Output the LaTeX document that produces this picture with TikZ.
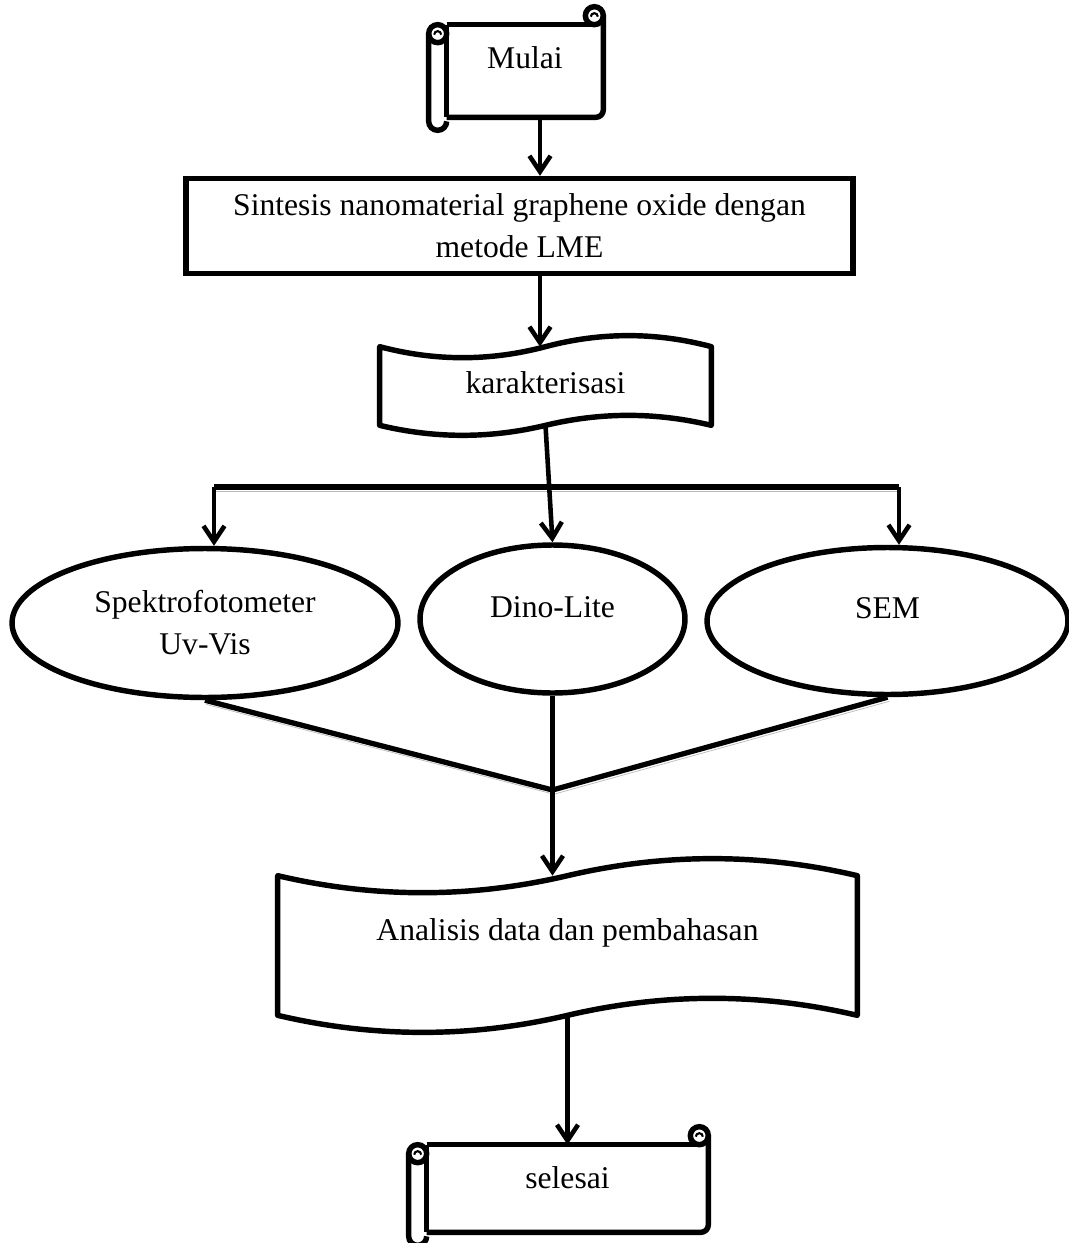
\documentclass[tikz,border=0pt]{standalone}
\usepackage{fontspec}
\setmainfont{Liberation Serif}
\usetikzlibrary{shapes.geometric}
\usetikzlibrary{arrows.meta}
\usetikzlibrary{calc}
\tikzstyle{kotak}=[draw, line width=3.1pt, fill=white, inner sep=0pt]
\tikzstyle{elips}=[kotak, ellipse]
\tikzstyle{pita}=[inner sep=0pt]
\tikzstyle{gulung}=[inner sep=0pt]
\tikzstyle{garis}=[line width=3pt]
\tikzstyle{panah}=[line width=2.6pt, -{Straight Barb[length=9pt, width=12pt]}]
\tikzstyle{bayang}=[preaction={draw=gray!55, transform canvas={shift={(0.8pt,-2.4pt)}}}]
\tikzset{naik/.style={text height=0.45cm, text depth=#1}}

\newcommand{\gambarpita}[3]{%
  \draw[line width=3.1pt, line join=round]
    (#1.north west)
    .. controls ($(#1.north west)!0.1667!(#1.north east)+(0,#2)$) and ($(#1.north west)!0.3333!(#1.north east)+(0,#2)$) .. (#1.north)
    .. controls ($(#1.north west)!0.6667!(#1.north east)-(0,#2)$) and ($(#1.north west)!0.8333!(#1.north east)-(0,#2)$) .. (#1.north east)
    -- (#1.south east)
    .. controls ($(#1.south west)!0.8333!(#1.south east)-(0,#3)$) and ($(#1.south west)!0.6667!(#1.south east)-(0,#3)$) .. (#1.south)
    .. controls ($(#1.south west)!0.3333!(#1.south east)+(0,#3)$) and ($(#1.south west)!0.1667!(#1.south east)+(0,#3)$) .. (#1.south west)
    -- cycle;}

\newcommand{\gambargulung}[1]{%
  \draw[line width=3.1pt, rounded corners=0.15cm] ([yshift=0.18cm]#1.north east) -- (#1.south east) -- (#1.south west);
  \draw[line width=3.1pt] (#1.north west) -- ([xshift=-0.18cm]#1.north east);
  \draw[line width=3.1pt] ([xshift=-0.18cm, yshift=0.18cm]#1.north east) circle[radius=0.18cm];
  \draw[line width=1.2pt] ([xshift=-0.25cm, yshift=0.16cm]#1.north east) arc[start angle=180, end angle=0, radius=0.07cm];
  \draw[line width=3.1pt] (#1.north west) -- (#1.south west);
  \draw[line width=3.1pt] ([xshift=-0.36cm, yshift=-0.18cm]#1.north west) -- ([xshift=-0.36cm, yshift=-0.08cm]#1.south west)
    arc[start angle=180, end angle=360, radius=0.18cm];
  \draw[line width=3.1pt] ([xshift=-0.18cm, yshift=-0.18cm]#1.north west) circle[radius=0.18cm];
  \draw[line width=1.2pt] ([xshift=-0.25cm, yshift=-0.20cm]#1.north west) arc[start angle=180, end angle=0, radius=0.07cm];}

\begin{document}
\begin{tikzpicture}[x=0.02cm, y=-0.02cm, font=\fontsize{18pt}{24pt}\selectfont]
    \useasboundingbox (0,0) rectangle (1068,1243);
    \node[gulung, minimum width=3.12cm, minimum height=1.84cm, naik=0.55cm] (mulai) at (525,71) {Mulai};
    \node[kotak, align=center, minimum width=13.34cm, minimum height=1.9cm] (sintesis) at (519.5,226) {Sintesis nanomaterial graphene oxide dengan\\metode LME};
    \node[pita, minimum width=6.62cm, minimum height=1.56cm, naik=0.15cm] (karak) at (545.5,386) {karakterisasi};
    \node[elips, align=center, minimum width=7.72cm, minimum height=2.98cm] (spektro) at (205,623) {Spektrofotometer\\Uv-Vis};
    \node[elips, minimum width=5.3cm, minimum height=2.96cm, naik=0.51cm] (dino) at (552.5,619) {Dino-Lite};
    \node[elips, minimum width=7.22cm, minimum height=2.94cm, naik=0.55cm] (sem) at (887.5,621) {SEM};
    \node[pita, minimum width=11.58cm, minimum height=2.78cm, naik=0.65cm] (analisis) at (567.5,945.5) {Analisis data dan pembahasan};
    \node[gulung, minimum width=5.62cm, minimum height=1.74cm, naik=0.47cm] (selesai) at (567.5,1188.5) {selesai};
    \coordinate (kiri) at (214,487);
    \coordinate (kanan) at (899,487);
    \coordinate (temu) at (552.5,790);
    \gambargulung{mulai}
    \gambargulung{selesai}
    \gambarpita{karak}{14.7}{13.3}
    \gambarpita{analisis}{22.7}{22.7}
    \draw[panah] ([xshift=0.3cm]mulai.south) -- ([xshift=0.3cm]mulai.south |- sintesis.north);
    \draw[panah] ([xshift=0.41cm]sintesis.south) -- ([xshift=0.41cm]sintesis.south |- karak.north);
    \draw[line width=3.8pt, bayang] (kiri) -- (kanan);
    \draw[panah] (karak.south) -- (dino.north);
    \draw[panah] (kiri) -- (kiri |- spektro.north);
    \draw[panah] (kanan) -- (kanan |- sem.north);
    \draw[garis, bayang] (spektro.south) -- (temu);
    \draw[garis, bayang] (sem.south) -- (temu);
    \draw[garis] (dino.south) -- (temu);
    \draw[panah] (temu) -- (temu |- analisis.north);
    \draw[panah] (analisis.south) -- (selesai.north);
\end{tikzpicture}
\end{document}
